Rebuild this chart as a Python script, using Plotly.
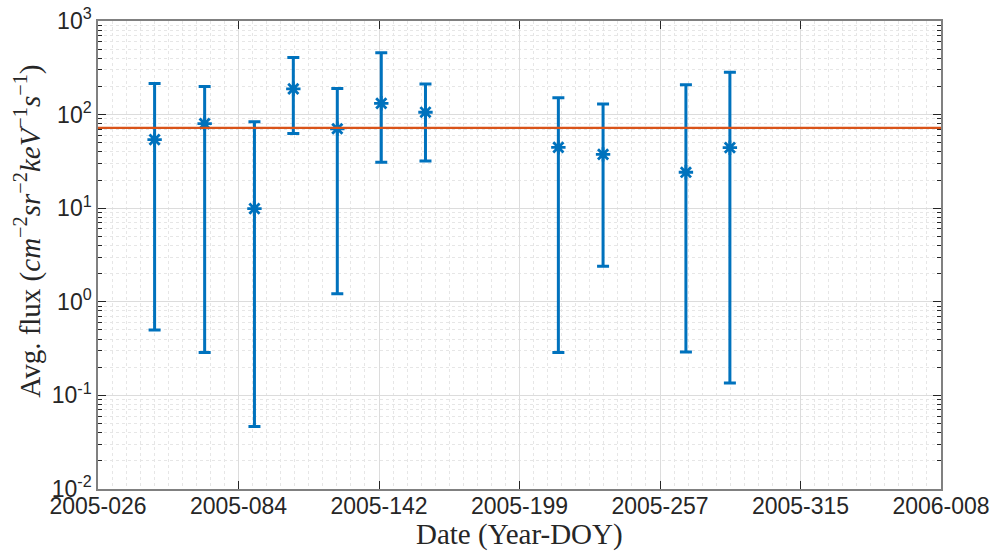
import plotly.graph_objects as go

# Day-of-year positions (2005; 2006-008 == 373)
day = [49.3, 69.9, 90.4, 106.4, 124.5, 142.6, 160.8, 215.5, 233.9, 268.0, 286.1]
flux = [54, 80, 9.9, 188, 70.6, 132, 106, 44.7, 37.6, 24.2, 44.3]
flux_hi = [215, 200, 84, 408, 190, 457, 212, 151, 130, 208, 284]
flux_lo = [0.50, 0.287, 0.0466, 63, 1.22, 31, 32, 0.287, 2.4, 0.29, 0.136]
mean_flux = 72.3

x_start, x_end = 26, 373
x_tick_labels = ["2005-026", "2005-084", "2005-142", "2005-199", "2005-257", "2005-315", "2006-008"]
y_tick_vals = [1e-2, 1e-1, 1e0, 1e1, 1e2, 1e3]
y_tick_text = ["10<sup>-2</sup>", "10<sup>-1</sup>", "10<sup>0</sup>", "10<sup>1</sup>", "10<sup>2</sup>", "10<sup>3</sup>"]
x_title = "Date (Year-DOY)"
y_title = "Avg. flux (<i>cm</i><sup>−2</sup><i>sr</i><sup>−2</sup><i>keV</i><sup>−1</sup><i>s</i><sup>−1</sup>)"

step = (x_end - x_start) / 6
x_tick_vals = [x_start + k * step for k in range(7)]

blue = "#0072BD"
orange = "#D95319"

fig = go.Figure()
fig.add_trace(go.Scatter(
    x=day, y=flux, mode="markers",
    marker=dict(symbol="asterisk-open", size=12, color=blue, line=dict(color=blue, width=2.8)),
    error_y=dict(type="data", symmetric=False,
                 array=[h - f for h, f in zip(flux_hi, flux)],
                 arrayminus=[f - l for f, l in zip(flux, flux_lo)],
                 color=blue, thickness=3, width=6),
    showlegend=False,
))
fig.add_trace(go.Scatter(
    x=[x_start, x_end], y=[mean_flux, mean_flux], mode="lines",
    line=dict(color=orange, width=2.2), showlegend=False,
))

tick_font = dict(family="Liberation Sans, Arial, sans-serif", size=23, color="#262626")
title_font = dict(family="Liberation Serif, Times New Roman, serif", size=29, color="#262626")

fig.update_layout(
    width=997, height=551,
    margin=dict(l=98, r=56, t=21, b=62),
    paper_bgcolor="white", plot_bgcolor="white",
    xaxis=dict(
        range=[x_start, x_end], automargin=False,
        tickmode="array", tickvals=x_tick_vals, ticktext=x_tick_labels,
        tickfont=tick_font, ticklabelstandoff=-4,
        ticks="inside", ticklen=8, tickwidth=1, tickcolor="#262626",
        showline=True, linecolor="#808080", linewidth=1.5, mirror="ticks",
        showgrid=True, gridcolor="#dcdcdc", gridwidth=1,
        zeroline=False,
        minor=dict(dtick=step / 10, tick0=x_start, showgrid=True,
                   gridcolor="#e6e6e6", griddash="dot", gridwidth=1, ticks=""),
    ),
    yaxis=dict(
        type="log", range=[-2, 3], automargin=False,
        tickmode="array", tickvals=y_tick_vals, ticktext=y_tick_text,
        tickfont=tick_font,
        ticks="inside", ticklen=8, tickwidth=1, tickcolor="#262626",
        showline=True, linecolor="#808080", linewidth=1.5, mirror="ticks",
        showgrid=True, gridcolor="#dcdcdc", gridwidth=1,
        zeroline=False,
        minor=dict(dtick="D1", showgrid=True, gridcolor="#e6e6e6", griddash="dot",
                   gridwidth=1, ticks="inside", ticklen=4, tickcolor="#262626"),
    ),
    annotations=[
        dict(text=y_title, font=title_font, textangle=-90,
             xref="paper", yref="paper", x=-0.083, y=0.55,
             xanchor="center", yanchor="middle", showarrow=False),
        dict(text=x_title, font=title_font,
             xref="paper", yref="paper", x=0.5, y=-0.098,
             xanchor="center", yanchor="middle", showarrow=False),
    ],
)

fig.write_html("out.html", config={"displayModeBar": False},
               post_script="document.body.style.margin='0';document.body.style.overflow='hidden';")
